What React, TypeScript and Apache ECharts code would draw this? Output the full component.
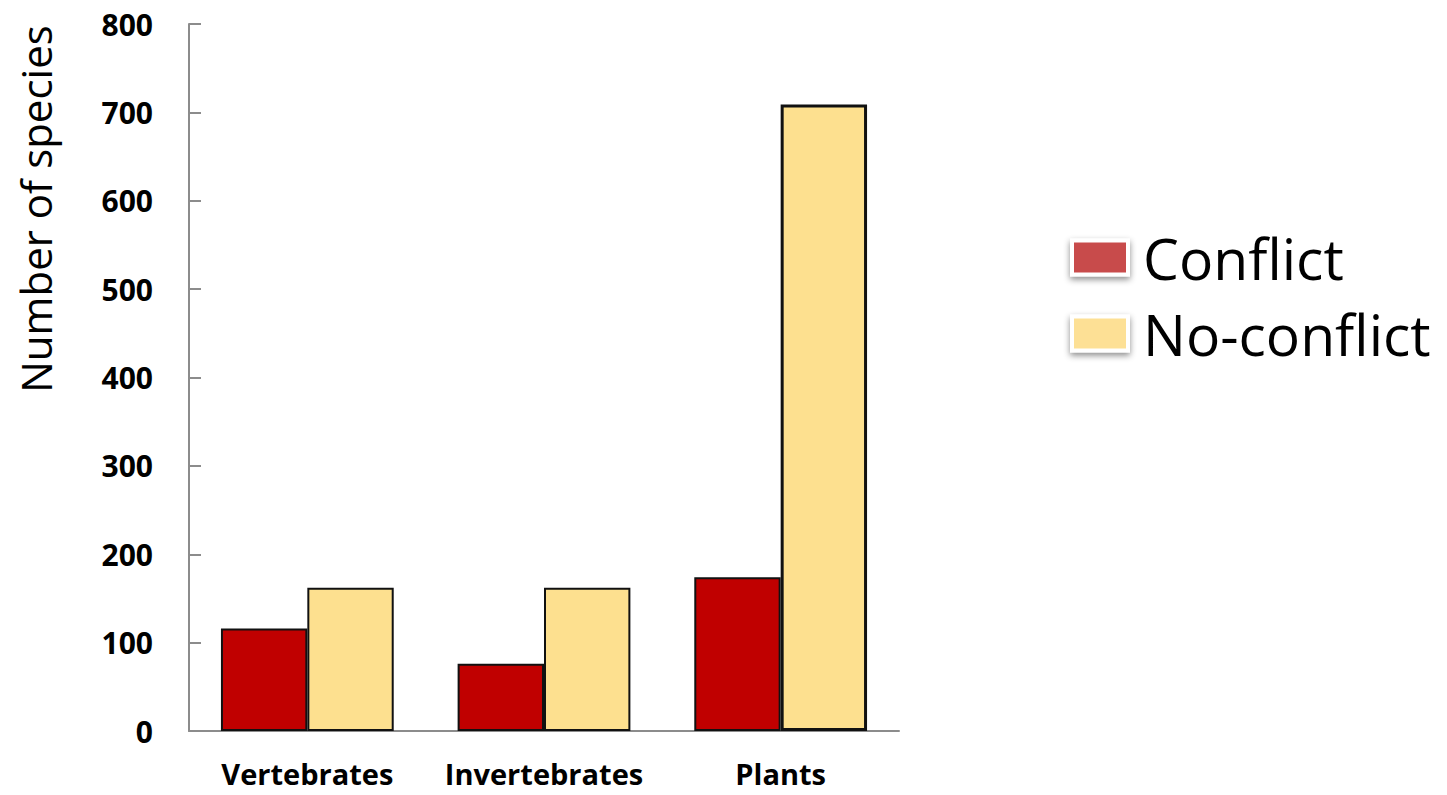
import React, { useEffect, useRef } from "react";
import * as echarts from "echarts";

const categories = ["Vertebrates", "Invertebrates", "Plants"];
const conflict = [116, 76, 174];
const noConflict = [162, 162, 709];
const seriesNames = ["Conflict", "No-conflict"];
const yAxisTitle = "Number of species";

export default function App() {
  const ref = useRef<HTMLDivElement>(null);
  useEffect(() => {
    if (!ref.current) return;
    const chart = echarts.init(ref.current, null, { renderer: "svg" });
    const font = "'Open Sans', 'DejaVu Sans', sans-serif";
    const legendIcon = (color: string) => ({
      color,
      borderColor: "#ffffff",
      borderWidth: 4,
      shadowBlur: 6,
      shadowOffsetY: 3,
      shadowColor: "rgba(0,0,0,0.45)",
    });
    chart.setOption({
      animation: false,
      backgroundColor: "#ffffff",
      grid: { left: 189, right: 548, top: 24, bottom: 64 },
      legend: {
        orient: "vertical",
        left: 1065,
        top: 224,
        itemWidth: 56,
        itemHeight: 34,
        itemGap: 19,
        icon: "rect",
        textStyle: {
          fontFamily: font,
          fontSize: 57,
          lineHeight: 56,
          color: "#000",
          padding: [0, 0, 0, 10],
        },
        data: [
          { name: seriesNames[0], itemStyle: legendIcon("#C84B4B") },
          { name: seriesNames[1], itemStyle: legendIcon("#FDE095") },
        ],
      },
      xAxis: {
        type: "category",
        data: categories,
        axisLine: { lineStyle: { color: "#8c8c8c", width: 2 } },
        axisTick: { show: false },
        axisLabel: {
          interval: 0,
          fontFamily: font,
          fontWeight: "bold",
          fontSize: 29,
          lineHeight: 29,
          color: "#000",
          margin: 28,
        },
      },
      yAxis: {
        type: "value",
        min: 0,
        max: 800,
        interval: 100,
        splitLine: { show: false },
        axisLine: { show: true, lineStyle: { color: "#8c8c8c", width: 2 } },
        axisTick: { show: true, inside: true, length: 12, lineStyle: { color: "#8c8c8c", width: 2 } },
        axisLabel: {
          fontFamily: font,
          fontWeight: "bold",
          fontSize: 30,
          color: "#000",
          margin: 36,
        },
      },
      graphic: [
        {
          type: "text",
          x: 35,
          y: 209,
          rotation: Math.PI / 2,
          style: {
            text: yAxisTitle,
            fontFamily: font,
            fontSize: 42,
            fill: "#000",
            align: "center",
            verticalAlign: "middle",
          },
        },
      ],
      series: [
        {
          name: seriesNames[0],
          type: "bar",
          barWidth: "36.5%",
          barGap: "0%",
          data: conflict,
          itemStyle: { color: "#C00000", borderColor: "#111", borderWidth: 2 },
        },
        {
          name: seriesNames[1],
          type: "bar",
          barWidth: "36.5%",
          data: noConflict.map((v, i) =>
            i === 2 ? { value: v, itemStyle: { borderWidth: 3 } } : v
          ),
          itemStyle: { color: "#FDE08F", borderColor: "#111", borderWidth: 2 },
        },
      ],
    });
    return () => chart.dispose();
  }, []);
  return <div ref={ref} style={{ width: 1447, height: 795, position: "absolute", left: 0, top: 0 }} />;
}
